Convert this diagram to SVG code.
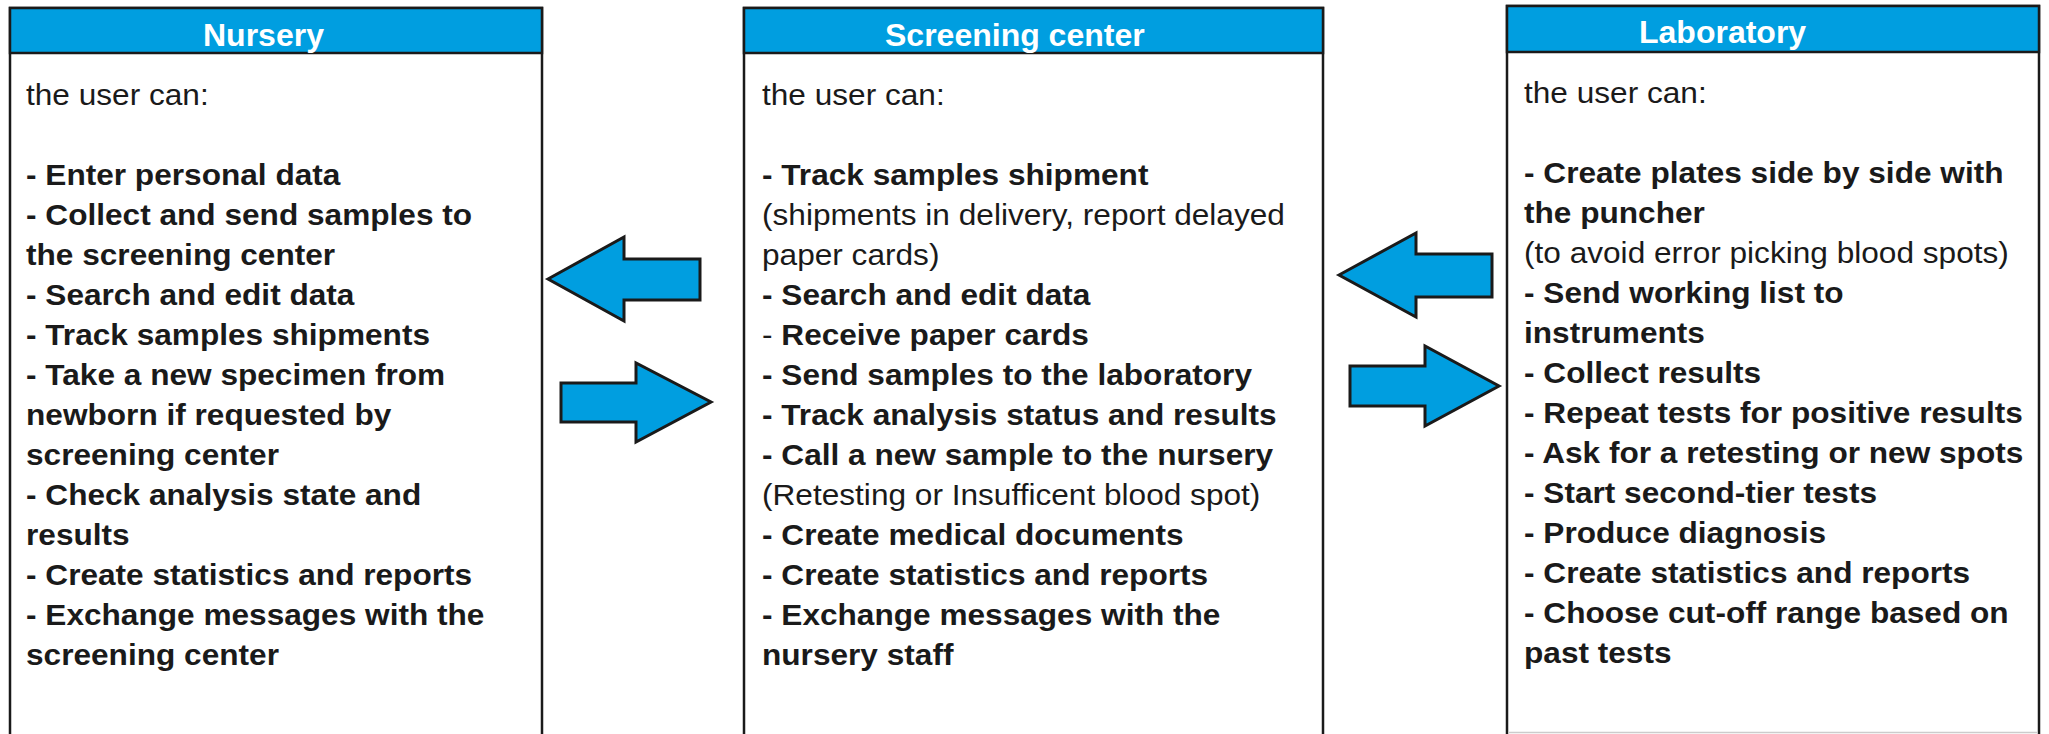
<svg xmlns="http://www.w3.org/2000/svg" width="2049" height="734" viewBox="0 0 2049 734">
<style>
.body{fill:#fff;stroke:#1a1a1a;stroke-width:2.5}
.hdr{fill:#009EE0;stroke:#1a1a1a;stroke-width:2.5}
.ht{font-family:"Liberation Sans",Arial,sans-serif;font-size:32px;font-weight:bold;fill:#fff}
.tx{font-family:"Liberation Sans",Arial,sans-serif;font-size:29px;fill:#1a1a1a}
.b{font-weight:bold}
.arrow{fill:#009EE0;stroke:#1a1a1a;stroke-width:3;stroke-linejoin:miter}
</style>
<rect width="2049" height="734" fill="#fff"/>
<g id="nursery">
<rect class="body" x="10" y="8" width="532" height="740"/>
<rect class="hdr" x="10" y="8" width="532" height="45"/>
<text class="ht" x="203" y="46">Nursery</text>
<g transform="translate(26,0) scale(1.09,1)">
<text class="tx" x="0" y="105">the user can:</text>
<text class="tx b" x="0" y="185">- Enter personal data</text>
<text class="tx b" x="0" y="225">- Collect and send samples to</text>
<text class="tx b" x="0" y="265">the screening center</text>
<text class="tx b" x="0" y="305">- Search and edit data</text>
<text class="tx b" x="0" y="345">- Track samples shipments</text>
<text class="tx b" x="0" y="385">- Take a new specimen from</text>
<text class="tx b" x="0" y="425">newborn if requested by</text>
<text class="tx b" x="0" y="465">screening center</text>
<text class="tx b" x="0" y="505">- Check analysis state and</text>
<text class="tx b" x="0" y="545">results</text>
<text class="tx b" x="0" y="585">- Create statistics and reports</text>
<text class="tx b" x="0" y="625">- Exchange messages with the</text>
<text class="tx b" x="0" y="665">screening center</text>
</g>
</g>
<g id="screening">
<rect class="body" x="744" y="8" width="579" height="740"/>
<rect class="hdr" x="744" y="8" width="579" height="45"/>
<text class="ht" x="885" y="46">Screening center</text>
<g transform="translate(762,0) scale(1.09,1)">
<text class="tx" x="0" y="105">the user can:</text>
<text class="tx b" x="0" y="185">- Track samples shipment</text>
<text class="tx" x="0" y="225">(shipments in delivery, report delayed</text>
<text class="tx" x="0" y="265">paper cards)</text>
<text class="tx b" x="0" y="305">- Search and edit data</text>
<text class="tx" x="0" y="345">- <tspan class="b">Receive paper cards</tspan></text>
<text class="tx b" x="0" y="385">- Send samples to the laboratory</text>
<text class="tx b" x="0" y="425">- Track analysis status and results</text>
<text class="tx b" x="0" y="465">- Call a new sample to the nursery</text>
<text class="tx" x="0" y="505">(Retesting or Insufficent blood spot)</text>
<text class="tx b" x="0" y="545">- Create medical documents</text>
<text class="tx b" x="0" y="585">- Create statistics and reports</text>
<text class="tx b" x="0" y="625">- Exchange messages with the</text>
<text class="tx b" x="0" y="665">nursery staff</text>
</g>
</g>
<g id="laboratory">
<rect class="body" x="1507" y="6" width="532" height="742"/>
<line x1="1508" y1="732.5" x2="2038" y2="732.5" stroke="#cccccc" stroke-width="1.5"/>
<rect class="hdr" x="1507" y="6" width="532" height="46"/>
<text class="ht" x="1639" y="43">Laboratory</text>
<g transform="translate(1524,0) scale(1.09,1)">
<text class="tx" x="0" y="103">the user can:</text>
<text class="tx b" x="0" y="183">- Create plates side by side with</text>
<text class="tx b" x="0" y="223">the puncher</text>
<text class="tx" x="0" y="263">(to avoid error picking blood spots)</text>
<text class="tx b" x="0" y="303">- Send working list to</text>
<text class="tx b" x="0" y="343">instruments</text>
<text class="tx b" x="0" y="383">- Collect results</text>
<text class="tx b" x="0" y="423">- Repeat tests for positive results</text>
<text class="tx b" x="0" y="463">- Ask for a retesting or new spots</text>
<text class="tx b" x="0" y="503">- Start second-tier tests</text>
<text class="tx b" x="0" y="543">- Produce diagnosis</text>
<text class="tx b" x="0" y="583">- Create statistics and reports</text>
<text class="tx b" x="0" y="623">- Choose cut-off range based on</text>
<text class="tx b" x="0" y="663">past tests</text>
</g>
</g>
<g id="connectors">
<polygon class="arrow" points="548,279 624,237 624,259 700,259 700,300 624,300 624,321"/>
<polygon class="arrow" points="561,383 636,383 636,363 711,402 636,442 636,422 561,422"/>
<polygon class="arrow" points="1339,275 1416,233 1416,254 1492,254 1492,297 1416,297 1416,317"/>
<polygon class="arrow" points="1350,366 1425,366 1425,346 1499,386 1425,426 1425,406 1350,406"/>
</g>
</svg>
